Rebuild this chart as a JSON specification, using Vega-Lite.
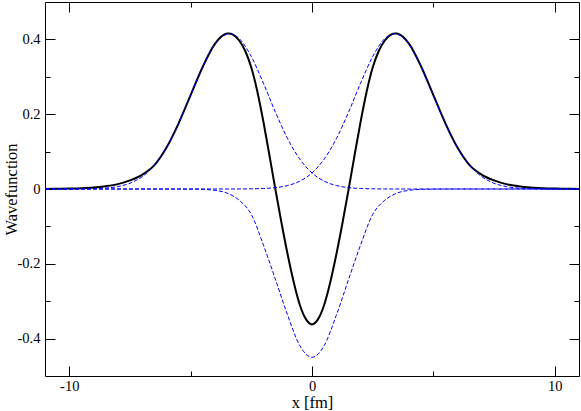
{
  "$schema": "https://vega.github.io/schema/vega-lite/v6.json",
  "width": 534,
  "height": 374,
  "autosize": "none",
  "padding": {"left": 45, "top": 2, "right": 2, "bottom": 35},
  "background": "white",
  "config": {
    "view": {"stroke": "#000000", "strokeWidth": 1},
    "axis": {
      "domain": false, "grid": false, "tickColor": "#000000", "tickWidth": 1,
      "labelFont": "Liberation Serif", "titleFont": "Liberation Serif",
      "labelFontSize": 14.5, "titleFontSize": 16.5, "titleFontWeight": "normal",
      "labelColor": "#000000", "titleColor": "#000000"
    }
  },
  "data": {"values": [
    {"s":"T","x":-11,"y":0.0003},{"s":"T","x":-10.5,"y":0.0006},{"s":"T","x":-10,"y":0.0012},{"s":"T","x":-9.5,"y":0.0022},
    {"s":"T","x":-9,"y":0.004},{"s":"T","x":-8.5,"y":0.0075},{"s":"T","x":-8,"y":0.013},{"s":"T","x":-7.5,"y":0.023},
    {"s":"T","x":-7,"y":0.038},{"s":"T","x":-6.5,"y":0.063},{"s":"T","x":-6,"y":0.110},{"s":"T","x":-5.5,"y":0.175},
    {"s":"T","x":-5,"y":0.251},{"s":"T","x":-4.5,"y":0.327},{"s":"T","x":-4,"y":0.388},{"s":"T","x":-3.5,"y":0.4155},
    {"s":"T","x":-3.4,"y":0.416},{"s":"T","x":-3,"y":0.397},{"s":"T","x":-2.75,"y":0.369},{"s":"T","x":-2.5,"y":0.325},
    {"s":"T","x":-2.25,"y":0.260},{"s":"T","x":-2,"y":0.179},{"s":"T","x":-1.75,"y":0.089},{"s":"T","x":-1.5,"y":-0.004},
    {"s":"T","x":-1.25,"y":-0.093},{"s":"T","x":-1,"y":-0.176},{"s":"T","x":-0.75,"y":-0.250},{"s":"T","x":-0.5,"y":-0.310},
    {"s":"T","x":-0.25,"y":-0.348},{"s":"T","x":0,"y":-0.362},
    {"s":"T","x":0.25,"y":-0.348},{"s":"T","x":0.5,"y":-0.310},{"s":"T","x":0.75,"y":-0.250},{"s":"T","x":1,"y":-0.176},
    {"s":"T","x":1.25,"y":-0.093},{"s":"T","x":1.5,"y":-0.004},{"s":"T","x":1.75,"y":0.089},{"s":"T","x":2,"y":0.179},
    {"s":"T","x":2.25,"y":0.260},{"s":"T","x":2.5,"y":0.325},{"s":"T","x":2.75,"y":0.369},{"s":"T","x":3,"y":0.397},
    {"s":"T","x":3.4,"y":0.416},{"s":"T","x":3.5,"y":0.4155},{"s":"T","x":4,"y":0.388},{"s":"T","x":4.5,"y":0.327},
    {"s":"T","x":5,"y":0.251},{"s":"T","x":5.5,"y":0.175},{"s":"T","x":6,"y":0.110},{"s":"T","x":6.5,"y":0.063},
    {"s":"T","x":7,"y":0.038},{"s":"T","x":7.5,"y":0.023},{"s":"T","x":8,"y":0.013},{"s":"T","x":8.5,"y":0.0075},
    {"s":"T","x":9,"y":0.004},{"s":"T","x":9.5,"y":0.0022},{"s":"T","x":10,"y":0.0012},{"s":"T","x":10.5,"y":0.0006},
    {"s":"T","x":11,"y":0.0003},

    {"s":"L","x":-11,"y":0},{"s":"L","x":-10.5,"y":0.00002},{"s":"L","x":-10,"y":0.00008},{"s":"L","x":-9.5,"y":0.0003},
    {"s":"L","x":-9,"y":0.0009},{"s":"L","x":-8.5,"y":0.0025},{"s":"L","x":-8,"y":0.0065},{"s":"L","x":-7.5,"y":0.0154},
    {"s":"L","x":-7,"y":0.0327},{"s":"L","x":-6.5,"y":0.0631},{"s":"L","x":-6,"y":0.1103},{"s":"L","x":-5.5,"y":0.1748},
    {"s":"L","x":-5,"y":0.2512},{"s":"L","x":-4.5,"y":0.3274},{"s":"L","x":-4,"y":0.3867},{"s":"L","x":-3.5,"y":0.4142},
    {"s":"L","x":-3.4,"y":0.415},{"s":"L","x":-3,"y":0.4022},{"s":"L","x":-2.5,"y":0.3541},{"s":"L","x":-2,"y":0.2826},
    {"s":"L","x":-1.5,"y":0.2045},{"s":"L","x":-1,"y":0.1342},{"s":"L","x":-0.5,"y":0.0798},{"s":"L","x":0,"y":0.043},
    {"s":"L","x":0.5,"y":0.021},{"s":"L","x":1,"y":0.0093},{"s":"L","x":1.5,"y":0.0037},{"s":"L","x":2,"y":0.0014},
    {"s":"L","x":2.5,"y":0.00045},{"s":"L","x":3,"y":0.00013},{"s":"L","x":3.5,"y":0.00004},{"s":"L","x":4,"y":0},
    {"s":"L","x":11,"y":0},

    {"s":"R","x":-11,"y":0},{"s":"R","x":-4,"y":0},{"s":"R","x":-3.5,"y":0.00004},{"s":"R","x":-3,"y":0.00013},
    {"s":"R","x":-2.5,"y":0.00045},{"s":"R","x":-2,"y":0.0014},{"s":"R","x":-1.5,"y":0.0037},{"s":"R","x":-1,"y":0.0093},
    {"s":"R","x":-0.5,"y":0.021},{"s":"R","x":0,"y":0.043},{"s":"R","x":0.5,"y":0.0798},{"s":"R","x":1,"y":0.1342},
    {"s":"R","x":1.5,"y":0.2045},{"s":"R","x":2,"y":0.2826},{"s":"R","x":2.5,"y":0.3541},{"s":"R","x":3,"y":0.4022},
    {"s":"R","x":3.4,"y":0.415},{"s":"R","x":3.5,"y":0.4142},{"s":"R","x":4,"y":0.3867},{"s":"R","x":4.5,"y":0.3274},
    {"s":"R","x":5,"y":0.2512},{"s":"R","x":5.5,"y":0.1748},{"s":"R","x":6,"y":0.1103},{"s":"R","x":6.5,"y":0.0631},
    {"s":"R","x":7,"y":0.0327},{"s":"R","x":7.5,"y":0.0154},{"s":"R","x":8,"y":0.0065},{"s":"R","x":8.5,"y":0.0025},
    {"s":"R","x":9,"y":0.0009},{"s":"R","x":9.5,"y":0.0003},{"s":"R","x":10,"y":0.00008},{"s":"R","x":10.5,"y":0.00002},
    {"s":"R","x":11,"y":0},

    {"s":"N","x":-11,"y":0},{"s":"N","x":-6,"y":0},{"s":"N","x":-5.5,"y":-0.0001},{"s":"N","x":-5,"y":-0.0003},
    {"s":"N","x":-4.5,"y":-0.001},{"s":"N","x":-4,"y":-0.0035},{"s":"N","x":-3.5,"y":-0.011},{"s":"N","x":-3,"y":-0.030},
    {"s":"N","x":-2.5,"y":-0.068},{"s":"N","x":-2,"y":-0.150},{"s":"N","x":-1.5,"y":-0.243},{"s":"N","x":-1,"y":-0.338},
    {"s":"N","x":-0.5,"y":-0.419},{"s":"N","x":0,"y":-0.45},{"s":"N","x":0.5,"y":-0.419},{"s":"N","x":1,"y":-0.338},
    {"s":"N","x":1.5,"y":-0.243},{"s":"N","x":2,"y":-0.150},{"s":"N","x":2.5,"y":-0.068},{"s":"N","x":3,"y":-0.030},
    {"s":"N","x":3.5,"y":-0.011},{"s":"N","x":4,"y":-0.0035},{"s":"N","x":4.5,"y":-0.001},{"s":"N","x":5,"y":-0.0003},
    {"s":"N","x":5.5,"y":-0.0001},{"s":"N","x":6,"y":0},{"s":"N","x":11,"y":0}
  ]},
  "layer": [
    {
      "transform": [{"filter": "datum.s == 'T'"}],
      "mark": {"type": "line", "color": "#000000", "strokeWidth": 2, "interpolate": "monotone"},
      "encoding": {
        "x": {"field": "x", "type": "quantitative",
              "scale": {"domain": [-11, 11], "nice": false, "zero": false},
              "axis": {"orient": "bottom", "values": [-10, 0, 10], "tickSize": -10, "labelPadding": 13,
                       "labelExpr": "'' + datum.value", "title": "x [fm]",
                       "titleX": 267, "titleY": 31.5, "titleBaseline": "alphabetic", "titleAlign": "center"}},
        "y": {"field": "y", "type": "quantitative",
              "scale": {"domain": [-0.5, 0.5], "nice": false, "zero": false},
              "axis": {"orient": "left", "values": [-0.4, -0.2, 0, 0.2, 0.4], "tickSize": -10, "labelPadding": 15,
                       "labelExpr": "'' + datum.value", "title": "Wavefunction",
                       "titleX": -29, "titleY": 187, "titleBaseline": "alphabetic", "titleAlign": "center", "titleAngle": -90}}
      }
    },
    {
      "transform": [{"filter": "datum.s != 'T'"}],
      "mark": {"type": "line", "color": "#0000ff", "strokeWidth": 1, "strokeDash": [4, 2], "interpolate": "monotone"},
      "encoding": {
        "x": {"field": "x", "type": "quantitative",
              "axis": {"orient": "top", "values": [-10, 0, 10], "tickSize": -10, "labels": false, "title": null}},
        "y": {"field": "y", "type": "quantitative",
              "axis": {"orient": "right", "values": [-0.4, -0.2, 0, 0.2, 0.4], "tickSize": -10, "labels": false, "title": null}},
        "detail": {"field": "s", "type": "nominal"}
      }
    },
    {
      "transform": [{"filter": "datum.s == 'N' && datum.x == 0"}],
      "mark": {"type": "point", "opacity": 0},
      "encoding": {
        "x": {"field": "x", "type": "quantitative",
              "axis": {"orient": "bottom", "values": [-5, 5], "tickSize": -5, "labels": false, "title": null}},
        "y": {"field": "y", "type": "quantitative",
              "axis": {"orient": "left", "values": [-0.3, -0.1, 0.1, 0.3], "tickSize": -5, "labels": false, "title": null}}
      }
    },
    {
      "transform": [{"filter": "datum.s == 'N' && datum.x == 0"}],
      "mark": {"type": "point", "opacity": 0},
      "encoding": {
        "x": {"field": "x", "type": "quantitative",
              "axis": {"orient": "top", "values": [-5, 5], "tickSize": -5, "labels": false, "title": null}},
        "y": {"field": "y", "type": "quantitative",
              "axis": {"orient": "right", "values": [-0.3, -0.1, 0.1, 0.3], "tickSize": -5, "labels": false, "title": null}}
      }
    }
  ],
  "resolve": {"axis": {"x": "independent", "y": "independent"}}
}
